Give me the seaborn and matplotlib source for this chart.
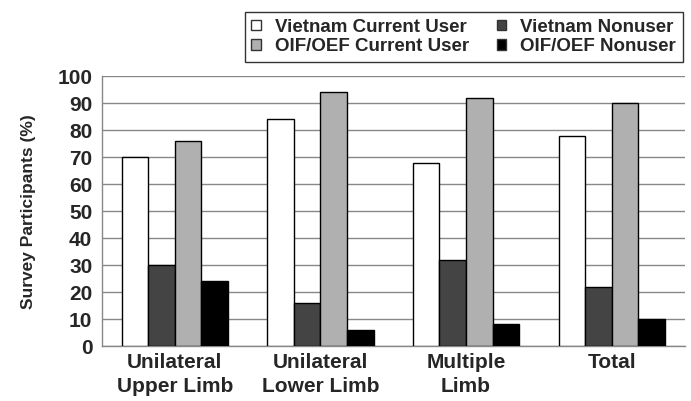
import pandas as pd
import matplotlib.pyplot as plt
from matplotlib.ticker import FixedLocator
import seaborn as sns

groups = ['Unilateral\nUpper Limb', 'Unilateral\nLower Limb', 'Multiple\nLimb', 'Total']
series = ['Vietnam Current User', 'Vietnam Nonuser', 'OIF/OEF Current User', 'OIF/OEF Nonuser']
vietnam_current = [70, 84, 68, 78]
vietnam_nonuser = [30, 16, 32, 22]
oif_current = [76, 94, 92, 90]
oif_nonuser = [24, 6, 8, 10]
colors = ['#ffffff', '#444444', '#b0b0b0', '#000000']

rows = []
for name, vals in zip(series, [vietnam_current, vietnam_nonuser, oif_current, oif_nonuser]):
    for g, v in zip(groups, vals):
        rows.append({'group': g, 'series': name, 'value': v})
df = pd.DataFrame(rows)

sns.set_style('white')
plt.rcParams['font.family'] = ['Liberation Sans', 'DejaVu Sans']

fig = plt.figure(figsize=(6.91, 4.01), dpi=100)
ax = fig.add_axes([0.1476, 0.137, 0.843, 0.673])

sns.barplot(data=df, x='group', y='value', hue='series', hue_order=series,
            order=groups, palette=colors, width=0.73, edgecolor='black',
            linewidth=1, saturation=1, ax=ax, legend=False, zorder=3)

ax.set_ylim(0, 100)
ax.set_xlim(-0.5, 3.5)
ax.set_yticks(range(0, 101, 10))
ax.yaxis.grid(True, color='#888888', linewidth=1, zorder=0)
ax.set_axisbelow(True)
for s in ['top', 'right']:
    ax.spines[s].set_visible(False)
for s in ['left', 'bottom']:
    ax.spines[s].set_color('#888888')
    ax.spines[s].set_linewidth(1)

ax.tick_params(axis='y', length=5, color='#888888', width=1, labelsize=15, pad=2)
ax.tick_params(axis='x', length=0, labelsize=15, pad=5)
ax.xaxis.set_minor_locator(FixedLocator([-0.5, 0.5, 1.5, 2.5, 3.5]))
ax.tick_params(axis='x', which='minor', length=3, color='#888888', width=1)
for lab in ax.get_xticklabels() + ax.get_yticklabels():
    lab.set_fontweight('bold')
for lab in ax.get_xticklabels():
    lab.set_linespacing(1.3)

ax.set_xlabel('')
ax.set_ylabel('Survey Participants (%)', fontsize=12.5, fontweight='bold', labelpad=15)

# legend: two columns, Vietnam on the first row
handles = [plt.Rectangle((0, 0), 1, 1, facecolor=c, edgecolor='#333333', linewidth=1) for c in colors]
order = [0, 2, 1, 3]
leg = fig.legend([handles[i] for i in order], [series[i] for i in order],
                 loc='upper right', bbox_to_anchor=(0.988, 0.970), ncol=2,
                 frameon=True, fancybox=False, edgecolor='black',
                 borderaxespad=0, handlelength=0.5, handleheight=0.5,
                 handletextpad=0.75, columnspacing=1.5, borderpad=0.35,
                 labelspacing=0.15, prop={'weight': 'bold', 'size': 13.5})
leg.get_frame().set_linewidth(1)

plt.savefig('out.png', dpi=100)
